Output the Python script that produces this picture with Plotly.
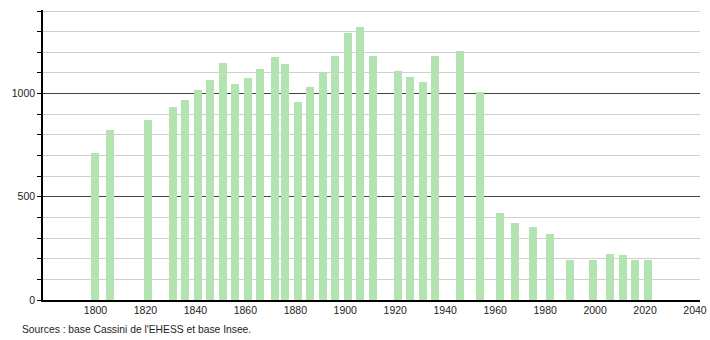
import plotly.graph_objects as go

years = [1800, 1806, 1821, 1831, 1836, 1841, 1846, 1851, 1856, 1861, 1866, 1872,
         1876, 1881, 1886, 1891, 1896, 1901, 1906, 1911, 1921, 1926, 1931, 1936,
         1946, 1954, 1962, 1968, 1975, 1982, 1990, 1999, 2006, 2011, 2016, 2021]
population = [713, 826, 874, 937, 969, 1019, 1066, 1149, 1048, 1077, 1119, 1178,
              1143, 961, 1033, 1106, 1183, 1296, 1323, 1183, 1111, 1082, 1057, 1183,
              1207, 1006, 423, 372, 352, 319, 196, 196, 222, 217, 196, 196]
x_ticks = [1800, 1820, 1840, 1860, 1880, 1900, 1920, 1940, 1960, 1980, 2000, 2020, 2040]
y_ticks = [0, 500, 1000]
source_text = "Sources : base Cassini de l'EHESS et base Insee."

fig = go.Figure()
fig.add_trace(go.Bar(
    x=years, y=population, width=3.2,
    marker=dict(color="#b2e3b0", line=dict(width=0)),
    hoverinfo="x+y",
))

fig.update_layout(
    width=710, height=340,
    margin=dict(l=43, r=10, t=10, b=40, autoexpand=False),
    paper_bgcolor="white", plot_bgcolor="white",
    font=dict(family="Liberation Sans, Arial, sans-serif", size=10.5, color="#222"),
    showlegend=False,
    bargap=0,
    xaxis=dict(
        range=[1779, 2042],
        tickvals=x_ticks,
        ticks="", showgrid=False, zeroline=False,
        showline=True, linecolor="black", linewidth=1.5,
        tickfont=dict(size=10.5, color="#222"),
        automargin=False,
        fixedrange=True,
    ),
    yaxis=dict(
        range=[0, 1405],
        tickvals=y_ticks,
        ticks="outside", ticklen=4, tickcolor="black", tickwidth=1,
        showgrid=True, gridcolor="#444", gridwidth=1,
        zeroline=False,
        showline=True, linecolor="black", linewidth=1.5,
        minor=dict(dtick=100, tick0=0, showgrid=True, gridcolor="#cfcfcf",
                   gridwidth=1, ticks="outside", ticklen=4, tickcolor="black"),
        tickfont=dict(size=10.5, color="#222"),
        automargin=False,
        fixedrange=True,
    ),
)

fig.add_annotation(
    text=source_text, xref="paper", yref="paper",
    x=(20 - 43) / 657, y=-22 / 290, xanchor="left", yanchor="top",
    showarrow=False, font=dict(size=10.3, color="#222"),
)

fig.write_html("out.html")
